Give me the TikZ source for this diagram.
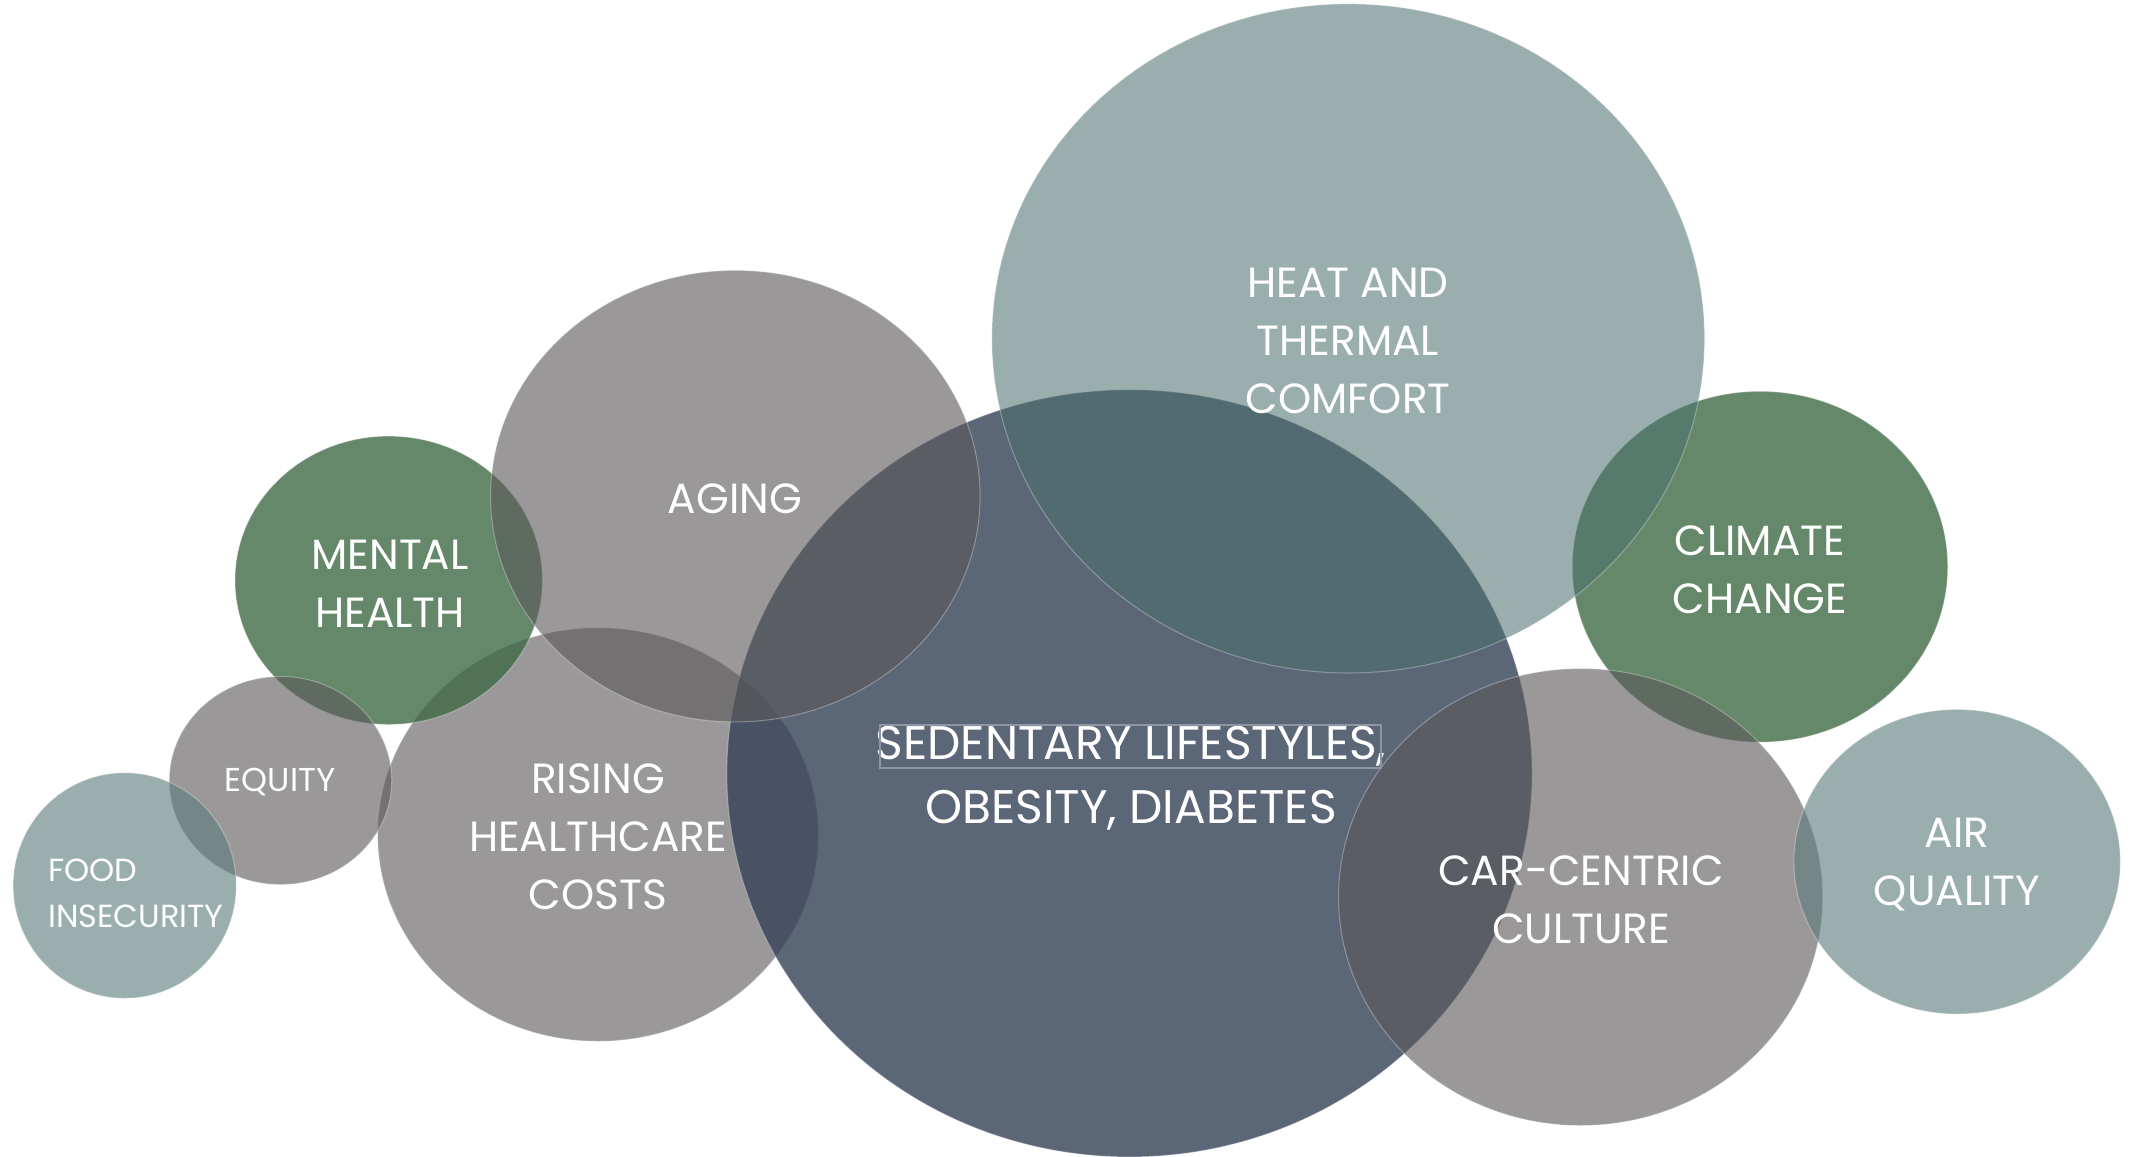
\documentclass[tikz,border=0pt]{standalone}
\usepackage{fontspec}
\setmainfont{Poppins}
\usetikzlibrary{shapes.geometric}
\definecolor{cgray}{RGB}{92,89,90}
\definecolor{cteal}{RGB}{92,126,123}
\definecolor{cheat}{RGB}{75,112,109}
\definecolor{cgreen}{RGB}{64,106,69}
\definecolor{cslate}{RGB}{55,68,89}
\definecolor{boxline}{RGB}{140,150,165}
\begin{document}
\begin{tikzpicture}[x=0.01cm,y=-0.01cm,
  bub/.style n args={3}{ellipse, inner sep=0pt, outer sep=0pt,
    minimum width=#1*0.02cm, minimum height=#2*0.02cm,
    fill=#3, fill opacity=0.62, draw=white, draw opacity=0.3, line width=0.3pt},
  lbl/.style={text=white, align=center, inner sep=0pt,
    font=\fontsize{12}{16.5}\selectfont},
  sedl/.style={text=white, inner sep=0pt, text height=0.7em, text depth=0pt,
    font=\fontsize{13.4}{17.8}\selectfont},
]
\useasboundingbox (0,0) rectangle (2131,1156);
% bubbles, back to front
\node[bub={220.2}{206.6}{cgray}]  (rising)    at (598,834.5) {};
\node[bub={153.6}{144.1}{cgreen}, fill opacity=0.8] (mental) at (388.7,580.3) {};
\node[bub={111.2}{104}{cgray}]    (equity)    at (280.5,780.5) {};
\node[bub={111.5}{112.7}{cteal}]  (food)      at (124.7,885.5) {};
\node[bub={402.3}{383.3}{cslate}, fill opacity=0.82] (sedentary) at (1129.4,773.3) {};
\node[bub={244.6}{225.6}{cgray}]  (aging)     at (735.3,496.1) {};
\node[bub={187.6}{175.3}{cgreen}, fill opacity=0.8] (climate) at (1760,566.7) {};
\node[bub={356.1}{334.3}{cheat}, fill opacity=0.56] (heat) at (1348.2,338.4) {};
\node[bub={241.9}{228.3}{cgray}]  (car)       at (1580.6,897) {};
\node[bub={163.1}{152.2}{cteal}]  (air)       at (1957.1,861.7) {};
% labels
\node[lbl] (heatL)    at (1348,341) {HEAT AND\\THERMAL\\COMFORT};
\node[lbl] (agingL)   at (735,499) {AGING};
\node[lbl] (mentalL)  at (390,584) {MENTAL\\HEALTH};
\node[lbl, font=\fontsize{9.4}{13}\selectfont] (equityL) at (280,781.5) {EQUITY};
\node[lbl, align=left, anchor=west, font=\fontsize{9.1}{13.1}\selectfont] (foodL) at (47.6,893) {FOOD\\INSECURITY};
\node[lbl] (risingL)  at (598,836.5) {RISING\\HEALTHCARE\\COSTS};
\node[sedl] (sedL1) at (1131,746.8) {SEDENTARY LIFESTYLES,};
\node[sedl] (sedL2) at (1131,811) {OBESITY, DIABETES};
\node[draw=boxline, line width=0.4pt, inner sep=0pt, minimum width=5.01cm, minimum height=0.43cm] (sedbox) at (1130.5,746.5) {};
\node[lbl] (climateL) at (1760,570) {CLIMATE\\CHANGE};
\node[lbl] (carL)     at (1581,900) {CAR-CENTRIC\\CULTURE};
\node[lbl] (airL)     at (1957,865) {AIR\\QUALITY};
\end{tikzpicture}
\end{document}
